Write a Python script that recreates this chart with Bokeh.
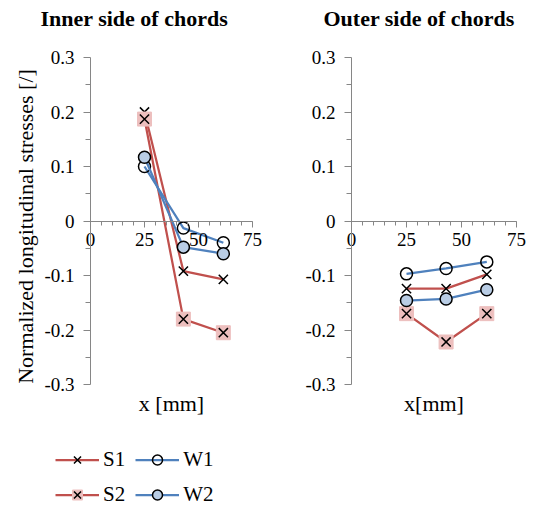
import math
from bokeh.plotting import figure
from bokeh.models import (Range1d, CustomJSTickFormatter, Legend, LegendItem,
                          SingleIntervalTicker, FixedTicker, LinearAxis, Label)
from bokeh.layouts import row
from bokeh.embed import file_html
from bokeh.resources import INLINE

# ---------------- data ----------------
x_mm = [25, 43, 61.5]

inner_S1 = [0.200, -0.092, -0.107]
inner_S2 = [0.187, -0.180, -0.205]
inner_W1 = [0.100, -0.013, -0.040]
inner_W2 = [0.117, -0.048, -0.060]

outer_S1 = [-0.124, -0.124, -0.098]
outer_S2 = [-0.170, -0.222, -0.170]
outer_W1 = [-0.097, -0.087, -0.075]
outer_W2 = [-0.146, -0.143, -0.126]

series_names = ["S1", "S2", "W1", "W2"]
titles = ["Inner side of chords", "Outer side of chords"]
x_labels = ["x [mm]", "x[mm]"]
y_label = "Normalized longitudinal stresses [/]"
y_ticks = [-0.3, -0.2, -0.1, 0.0, 0.1, 0.2, 0.3]
y_minor = [-0.25, -0.15, -0.05, 0.05, 0.15, 0.25]

RED = "#C0504D"
BLUE = "#4F81BD"
PINK = "#EDBFBE"
LBLUE = "#B9CDE5"
AXIS = "#868686"
FONT = "Liberation Serif"

FIG_H = 507
PX_PER_UNIT_Y = 545.0
TOP_PX = 57            # pixel row of y = 0.3
Y_TOP = 0.3 + TOP_PX / PX_PER_UNIT_Y
Y_RANGE = (Y_TOP - FIG_H / PX_PER_UNIT_Y, Y_TOP)
TITLE_Y = 0.3 + (TOP_PX - 18) / PX_PER_UNIT_Y


def make_fig(width, x_start, px_per_mm, title, title_dx_px, xlab, ylab, data):
    p = figure(width=width, height=FIG_H, output_backend="svg", toolbar_location=None,
               x_range=Range1d(x_start, x_start + width / px_per_mm),
               y_range=Range1d(*Y_RANGE),
               x_axis_location=None, y_axis_location=None,
               min_border_left=0, min_border_right=0,
               min_border_top=0, min_border_bottom=0)
    p.outline_line_color = None
    p.grid.visible = False

    # chart title
    p.add_layout(Label(x=0, y=TITLE_Y, x_offset=title_dx_px, text=title,
                       text_align="left", text_baseline="middle",
                       text_font=FONT, text_font_size="22px", text_font_style="bold",
                       text_color="black"))

    # y axis crossing at x = 0
    ya = LinearAxis(fixed_location=0, bounds=(-0.3, 0.3),
                    ticker=FixedTicker(ticks=y_ticks, minor_ticks=y_minor),
                    formatter=CustomJSTickFormatter(
                        code="return Math.abs(tick) < 1e-9 ? '0' : tick.toFixed(1);"))
    ya.axis_line_color = AXIS
    ya.major_tick_line_color = AXIS
    ya.minor_tick_line_color = AXIS
    ya.major_tick_in = 0
    ya.major_tick_out = 7
    ya.minor_tick_in = 0
    ya.minor_tick_out = 5
    ya.major_label_standoff = 9
    ya.major_label_text_font = FONT
    ya.major_label_text_font_size = "19px"
    ya.major_label_text_color = "black"
    p.add_layout(ya, "left")

    # x axis crossing at y = 0
    xa = LinearAxis(fixed_location=0, bounds=(0, 75),
                    ticker=SingleIntervalTicker(interval=25, num_minor_ticks=5))
    xa.axis_line_color = AXIS
    xa.major_tick_line_color = AXIS
    xa.minor_tick_line_color = AXIS
    xa.major_tick_in = 0
    xa.major_tick_out = 6
    xa.minor_tick_in = 0
    xa.minor_tick_out = 4
    xa.major_label_standoff = 6
    xa.major_label_text_font = FONT
    xa.major_label_text_font_size = "19px"
    xa.major_label_text_color = "black"
    p.add_layout(xa, "below")

    # x axis title under the bottom of the y axis
    p.add_layout(Label(x=37.5, y=-0.3, y_offset=-19, text=xlab,
                       text_align="center", text_baseline="middle",
                       text_font=FONT, text_font_size="22px", text_color="black"))
    # y axis title, left of the tick labels
    if ylab:
        p.add_layout(Label(x=0, y=-0.01, x_offset=-65, text=ylab, angle=math.pi / 2,
                           text_align="center", text_baseline="middle",
                           text_font=FONT, text_font_size="22px", text_color="black"))

    s1, s2, w1, w2 = data
    r = {}
    l1 = p.line(x_mm, s1, line_color=RED, line_width=2.25)
    m1 = p.scatter(x_mm, s1, marker="x", size=13, line_color="black", line_width=1.5)
    l2 = p.line(x_mm, s2, line_color=RED, line_width=2.25)
    q2 = p.scatter(x_mm, s2, marker="square", size=14, fill_color=PINK,
                   line_color=PINK, line_width=1)
    m2 = p.scatter(x_mm, s2, marker="x", size=13, line_color="black", line_width=1.5)
    l3 = p.line(x_mm, w1, line_color=BLUE, line_width=2.25)
    m3 = p.scatter(x_mm, w1, marker="circle", size=12, fill_color=None,
                   line_color="black", line_width=1.5)
    l4 = p.line(x_mm, w2, line_color=BLUE, line_width=2.25)
    m4 = p.scatter(x_mm, w2, marker="circle", size=12, fill_color=LBLUE,
                   line_color="black", line_width=1.5)
    r["S1"] = [l1, m1]
    r["S2"] = [l2, q2, m2]
    r["W1"] = [l3, m3]
    r["W2"] = [l4, m4]
    return p, r


# left chart: y axis at 90 px, 2.16 px per mm
p1, r1 = make_fig(298, -90 / 2.16, 2.16, titles[0], -50, x_labels[0], y_label,
                  (inner_S1, inner_S2, inner_W1, inner_W2))
# right chart starts at 298 px: y axis at 351 px, 2.2 px per mm
p2, r2 = make_fig(235, -53 / 2.2, 2.2, titles[1], -28, x_labels[1], None,
                  (outer_S1, outer_S2, outer_W1, outer_W2))

legend = Legend(items=[LegendItem(label=n, renderers=r1[n]) for n in series_names],
                location=(55, 0), orientation="vertical", ncols=2,
                background_fill_alpha=0, border_line_color=None,
                padding=0, margin=0, spacing=10, glyph_width=44, glyph_height=25,
                label_height=25, label_standoff=4,
                label_text_font=FONT, label_text_font_size="21px",
                label_text_color="black")
p1.add_layout(legend, "center")

layout = row(p1, p2)
open("out.html", "w").write(file_html(layout, INLINE))
